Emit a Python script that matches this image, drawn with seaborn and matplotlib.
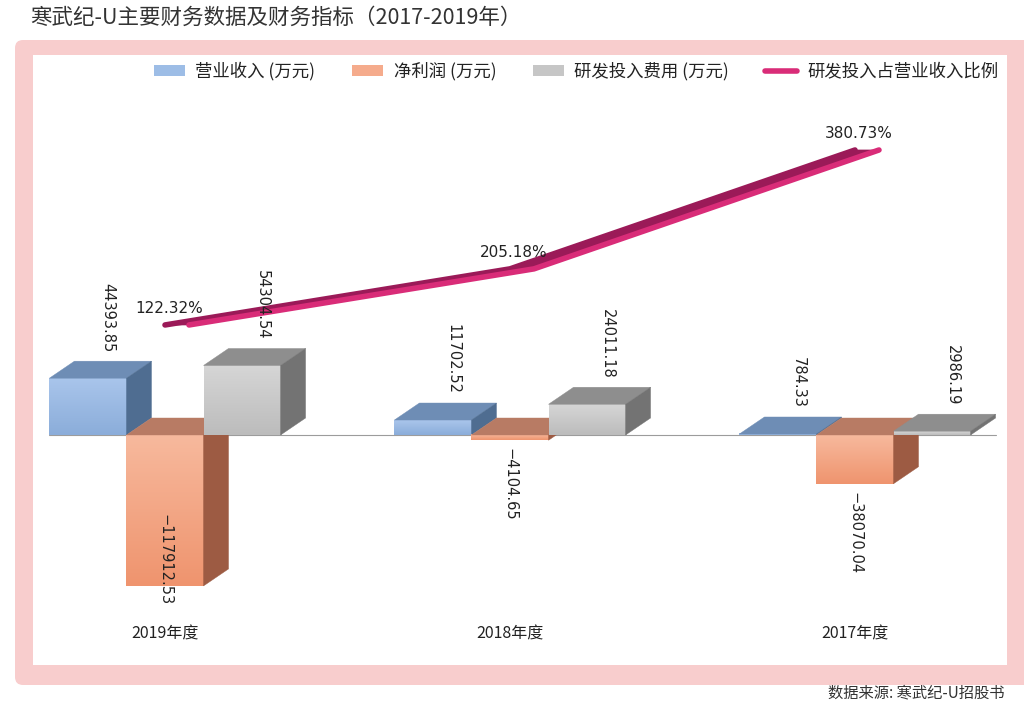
"""寒武纪-U 主要财务数据及财务指标 (2017-2019) — 3D-style bars + ribbon line."""
import matplotlib
matplotlib.use("Agg")
import matplotlib.colors as mcolors
import matplotlib.pyplot as plt
import numpy as np
import pandas as pd
import seaborn as sns
from matplotlib.lines import Line2D
from matplotlib.patches import FancyBboxPatch, Patch, Polygon, Rectangle
from matplotlib.transforms import ScaledTranslation

# ── Data ──────────────────────────────────────────────────────────────
YEARS = ["2019年度", "2018年度", "2017年度"]
REVENUE = [44393.85, 11702.52, 784.33]
NET_PROFIT = [-117912.53, -4104.65, -38070.04]
RD_COST = [54304.54, 24011.18, 2986.19]
RD_RATIO = [122.32, 205.18, 380.73]

SERIES = ["营业收入 (万元)", "净利润 (万元)", "研发投入费用 (万元)"]
LINE_LABEL = "研发投入占营业收入比例"
TITLE = "寒武纪-U主要财务数据及财务指标（2017-2019年）"
SOURCE = "数据来源: 寒武纪-U招股书"

# ── Colours: front-top, front-bottom, top face, side face ─────────────
FACES = {
    SERIES[0]: ("#a9c5eb", "#8badda", "#6e8db5", "#4f6d91"),
    SERIES[1]: ("#f7b99d", "#ef946e", "#b87b64", "#9d5b43"),
    SERIES[2]: ("#d6d6d6", "#bcbcbc", "#8e8e8e", "#737373"),
}
LEGEND_COLORS = ["#9dbde6", "#f5ab8c", "#c6c6c6"]
PINK = "#d92c78"
PINK_DARK = "#9b1a58"
PANEL_PINK = "#f8cdcd"
TEXT = "#222222"

W, H = 1024, 708
DEPTH_PX = (25, 17)      # 3D depth of the bars, in pixels
RIBBON_PX = 24           # depth of the line ribbon, in pixels

sns.set_theme(style="white")
plt.rcParams["font.family"] = ["Noto Sans CJK SC", "DejaVu Sans"]

df = pd.DataFrame({
    "year": YEARS * 3,
    "series": np.repeat(SERIES, len(YEARS)),
    "value": REVENUE + NET_PROFIT + RD_COST,
})

fig = plt.figure(figsize=(W / 100, H / 100), dpi=100)
fig.patch.set_facecolor("white")

# pink rounded frame + white plot panel (coordinates in inches)
fig.patches.append(FancyBboxPatch(
    (0.15, (H - 685) / 100), 10.4, 6.45,
    boxstyle="round,pad=0,rounding_size=0.08",
    transform=fig.dpi_scale_trans, fc=PANEL_PINK, ec="none", zorder=0,
))
fig.patches.append(Rectangle(
    (0.33, (H - 665) / 100), 9.74, 6.10,
    transform=fig.dpi_scale_trans, fc="white", ec="none", zorder=0.5,
))

ax = fig.add_axes([33 / W, (H - 610) / H, 974 / W, 555 / H])
sns.barplot(
    data=df, x="year", y="value", hue="series",
    order=YEARS, hue_order=SERIES,
    palette=[FACES[s][1] for s in SERIES],
    width=0.67, saturation=1, edgecolor="none", legend=False, ax=ax,
)
ax.set_xlim(-0.3826, 2.4406)
ax.set_ylim(-136720, 296875)
ax.set_xlabel("")
ax.set_ylabel("")
ax.set_yticks([])
sns.despine(ax=ax, left=True, bottom=True)
ax.tick_params(axis="x", length=0, pad=11, labelsize=11.5, colors=TEXT)

inv = ax.transData.inverted()
o = inv.transform((0, 0))
d = inv.transform(DEPTH_PX)
ddx, ddy = d[0] - o[0], d[1] - o[1]

values_by_series = [REVENUE, NET_PROFIT, RD_COST]
neg_labels = []
all_x = []
for k, (cont, series, vals) in enumerate(zip(ax.containers, SERIES, values_by_series)):
    c_top, c_bot, c_lid, c_side = FACES[series]
    cmap = mcolors.LinearSegmentedColormap.from_list(f"g{k}", [c_top, c_bot])
    z = 2 + k
    for bar, v in zip(cont.patches, vals):
        x0, w = bar.get_x(), bar.get_width()
        x1 = x0 + w
        y0, y1 = sorted([bar.get_y(), bar.get_y() + bar.get_height()])
        all_x += [x0, x1 + ddx]
        bar.set_zorder(z)
        ax.imshow(
            np.linspace(0, 1, 128).reshape(-1, 1), cmap=cmap,
            extent=(x0, x1, y0, y1), origin="upper", aspect="auto",
            clip_path=bar, zorder=z + 0.01, interpolation="bilinear",
        )
        ax.add_patch(Polygon(
            [(x0, y1), (x1, y1), (x1 + ddx, y1 + ddy), (x0 + ddx, y1 + ddy)],
            closed=True, fc=c_lid, ec=c_lid, lw=0.3, zorder=z + 0.02,
        ))
        ax.add_patch(Polygon(
            [(x1, y0), (x1, y1), (x1 + ddx, y1 + ddy), (x1 + ddx, y0 + ddy)],
            closed=True, fc=c_side, ec=c_side, lw=0.3, zorder=z + 0.02,
        ))
        label = f"{v:.2f}".replace("-", "\u2212")
        xc = x0 + w / 2
        if v >= 0:
            ax.annotate(
                label, (xc, y1), xytext=(DEPTH_PX[0] * 0.8, DEPTH_PX[1] + 9),
                textcoords="offset pixels", rotation=270, ha="center", va="bottom",
                fontsize=10.5, color=TEXT, family="DejaVu Sans", zorder=10,
            )
        else:
            t = ax.annotate(
                label, (xc, y0), xytext=(0, -8),
                textcoords="offset pixels", rotation=270, ha="center", va="top",
                fontsize=10.5, color=TEXT, family="DejaVu Sans", zorder=10,
            )
            neg_labels.append(t)

# zero baseline across the bars
ax.plot([min(all_x), max(all_x)], [0, 0], color="#9c9c9c", lw=0.8, zorder=1.5)

# ── Secondary axis: R&D ratio ribbon line ─────────────────────────────
ax2 = ax.twinx()
sns.lineplot(x=YEARS, y=RD_RATIO, sort=False, ax=ax2, color=PINK, lw=4)
ax2.set_ylim(-298.6, 521.0)
ax2.set_yticks([])
ax2.set_ylabel("")
sns.despine(ax=ax2, left=True, right=True, bottom=True)

front = ax2.lines[0]
front.set_transform(ax2.transData + ScaledTranslation(RIBBON_PX / 100, 0, fig.dpi_scale_trans))
front.set_solid_capstyle("round")
front.set_solid_joinstyle("round")
front.set_zorder(3)

xy = front.get_xydata()
inv2 = ax2.transData.inverted()
rdx = inv2.transform((RIBBON_PX, 0))[0] - inv2.transform((0, 0))[0]
back_pts = [(x, y) for x, y in xy]
front_pts = [(x + rdx, y) for x, y in xy]
ax2.add_patch(Polygon(back_pts + front_pts[::-1], closed=True,
                      fc=PINK_DARK, ec=PINK_DARK, lw=0.5, zorder=1.5))
ax2.plot(xy[:, 0], xy[:, 1], color=PINK_DARK, lw=4,
         solid_capstyle="round", solid_joinstyle="round", zorder=1.4)

for (x, y), v in zip(xy, RD_RATIO):
    ax2.annotate(f"{v:.2f}%", (x, y), xytext=(4, 9), textcoords="offset pixels",
                 ha="center", va="bottom", fontsize=11, color=TEXT,
                 family="DejaVu Sans")

ax.set_zorder(2)
ax2.set_zorder(1)
ax.patch.set_visible(False)
ax2.patch.set_visible(False)

# ── Legend, title, source ─────────────────────────────────────────────
handles = [Patch(fc=c, ec="none") for c in LEGEND_COLORS]
handles.append(Line2D([], [], color=PINK, lw=4, solid_capstyle="round"))
fig.legend(
    handles, SERIES + [LINE_LABEL], loc="center",
    bbox_to_anchor=(576 / W, 1 - 71 / H), ncol=4, frameon=False,
    fontsize=12.5, handlelength=1.8, handleheight=0.6, handletextpad=0.6,
    columnspacing=2.1, labelcolor=TEXT,
)
fig.text(30 / W, 1 - 18 / H, TITLE, ha="left", va="center", fontsize=15.5, color="#333333")
fig.text(1005 / W, 1 - 693 / H, SOURCE, ha="right", va="center", fontsize=11, color="#333333")

# keep negative labels inside the plot area (as the spreadsheet does)
fig.canvas.draw()
ax_bottom = ax.get_window_extent().y0
for t in neg_labels:
    bb = t.get_window_extent()
    if bb.y0 < ax_bottom + 5:
        xo, yo = t.xyann
        t.xyann = (xo, yo + (ax_bottom + 5 - bb.y0))

fig.savefig("out.png", dpi=100)
